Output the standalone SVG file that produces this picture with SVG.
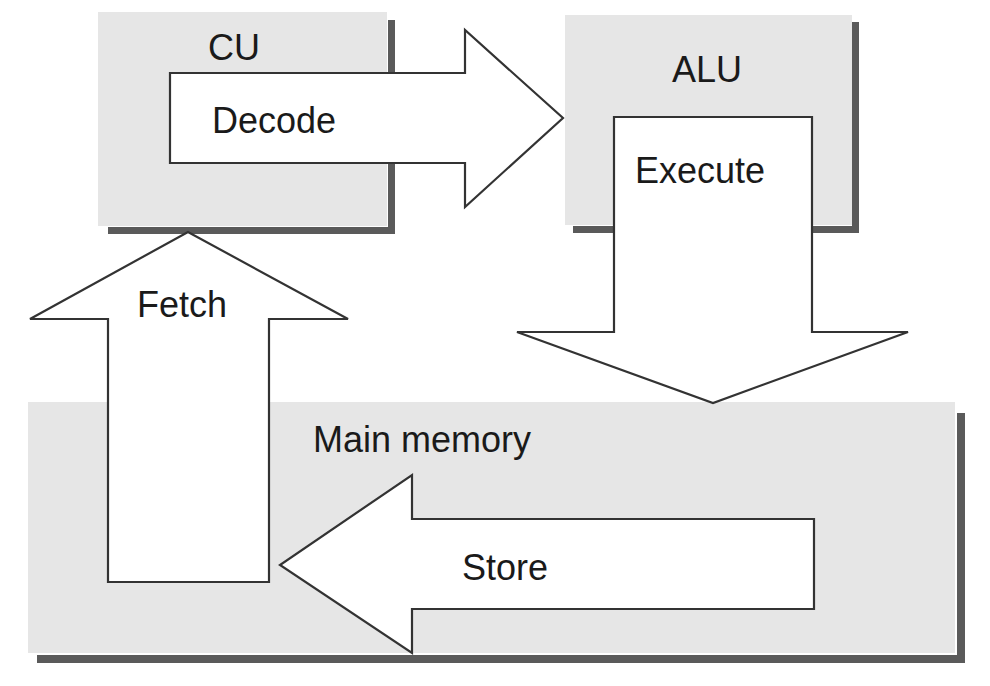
<svg xmlns="http://www.w3.org/2000/svg" width="990" height="686" viewBox="0 0 990 686">
<style>
.box{fill:#e6e6e6}
.shadow{fill:#5a5a5a}
.arrow{fill:#ffffff;stroke:#333333;stroke-width:2.2;stroke-linejoin:miter}
.t{font-family:"Liberation Sans",Arial,sans-serif;font-size:36px;fill:#1a1a1a}
</style>
<rect width="990" height="686" fill="#ffffff"/>
<g id="cu">
<rect class="shadow" x="388" y="20" width="7" height="214"/>
<rect class="shadow" x="108" y="227" width="287" height="7"/>
<rect class="box" x="98" y="12" width="289" height="214"/>
<text class="t" x="208" y="60">CU</text>
</g>
<g id="alu">
<rect class="shadow" x="852" y="22" width="7" height="211"/>
<rect class="shadow" x="573" y="226" width="286" height="7"/>
<rect class="box" x="565" y="15" width="287" height="210"/>
<text class="t" x="672" y="82">ALU</text>
</g>
<g id="main-memory">
<rect class="shadow" x="957" y="413" width="8" height="250"/>
<rect class="shadow" x="37" y="655" width="928" height="8"/>
<rect class="box" x="28" y="402" width="927" height="251"/>
<text class="t" x="313" y="452">Main memory</text>
</g>
<g id="connectors">
<g id="decode">
<polygon class="arrow" points="170,73 465,73 465,30 563,118 465,207 465,163 170,163"/>
<text class="t" x="212" y="133">Decode</text>
</g>
<g id="execute">
<polygon class="arrow" points="614,117 812,117 812,332 908,332 713,403 517,332 614,332"/>
<text class="t" x="635" y="183">Execute</text>
</g>
<g id="store">
<polygon class="arrow" points="814,519 412,519 412,475 280,565 412,653 412,609 814,609"/>
<text class="t" x="462" y="580">Store</text>
</g>
<g id="fetch">
<polygon class="arrow" points="108,582 108,319 30,319 188,232 348,319 269,319 269,582"/>
<text class="t" x="137" y="317">Fetch</text>
</g>
</g>
</svg>
